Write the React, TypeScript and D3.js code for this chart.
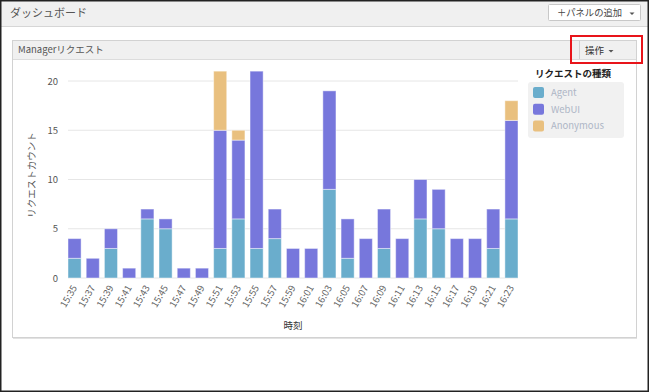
import React from "react";
import * as d3 from "d3";

const times = ["15:35","15:37","15:39","15:41","15:43","15:45","15:47","15:49","15:51","15:53","15:55","15:57","15:59","16:01","16:03","16:05","16:07","16:09","16:11","16:13","16:15","16:17","16:19","16:21","16:23"];
const agent = [2,0,3,0,6,5,0,0,3,6,3,4,0,0,9,2,0,3,0,6,5,0,0,3,6];
const webui = [2,2,2,1,1,1,1,1,12,8,18,3,3,3,10,4,4,4,4,4,4,4,4,4,10];
const anonymous = [0,0,0,0,0,0,0,0,6,1,0,0,0,0,0,0,0,0,0,0,0,0,0,0,2];
const seriesKeys = ["Agent", "WebUI", "Anonymous"];
const seriesColors = ["#6aadcc", "#7777dc", "#e9c07f"];
const yTicks = [0, 5, 10, 15, 20];

const FONT = "'Noto Sans CJK JP', 'Noto Sans', sans-serif";

export default function App() {
  const W = 649, H = 392;
  const rows = times.map((t, i) => ({ time: t, Agent: agent[i], WebUI: webui[i], Anonymous: anonymous[i] }));
  const stack = d3.stack<any>().keys(seriesKeys)(rows);
  const x = d3.scaleBand<string>().domain(times).range([68, 518]).paddingInner(0.28).paddingOuter(0);
  const y = d3.scaleLinear().domain([0, 20]).range([278, 81]);
  const color = d3.scaleOrdinal<string, string>().domain(seriesKeys).range(seriesColors);

  return (
    <svg width={W} height={H} style={{ position: "absolute", left: 0, top: 0, display: "block", fontFamily: FONT }}>
      <rect x={0} y={0} width={W} height={H} fill="#fff" />
      {/* top header */}
      <rect x={0} y={0} width={W} height={26} fill="#f0f0f0" />
      <line x1={0} x2={W} y1={26.5} y2={26.5} stroke="#d6d6d6" />
      <text x={10} y={16.5} fontSize={11} fill="#555">ダッシュボード</text>
      <rect x={548.5} y={4.5} width={92} height={16} fill="#fff" stroke="#c8c8c8" rx={1} />
      <text x={557} y={16} fontSize={9.5} fill="#444" textLength={65} lengthAdjust="spacingAndGlyphs">＋パネルの追加</text>
      <path d="M629.5,12.5 L634.5,12.5 L632,15 Z" fill="#555" />

      {/* panel */}
      <rect x={12.5} y={40.5} width={624} height={297} fill="#fff" stroke="#d2d2d2" />
      <line x1={13} x2={637} y1={338.5} y2={338.5} stroke="#e2e2e2" />
      <rect x={13} y={41} width={623} height={18} fill="#f0f0f0" />
      <line x1={13} x2={636} y1={59.5} y2={59.5} stroke="#dcdcdc" />
      <text x={18} y={53} fontSize={9.5} fill="#555">Managerリクエスト</text>
      <line x1={579.5} x2={579.5} y1={41} y2={59} stroke="#d0d0d0" />
      <text x={585} y={54} fontSize={9.5} fill="#333">操作</text>
      <path d="M608.5,50 L613.5,50 L611,52.5 Z" fill="#555" />
      <rect x={571} y={36} width={71} height={27} fill="none" stroke="#e8141a" strokeWidth={2} />

      {/* gridlines */}
      {yTicks.map(t => (
        <line key={t} x1={68} x2={518} y1={y(t)} y2={y(t)} stroke="#e6e6e6" strokeWidth={1} />
      ))}
      {yTicks.map(t => (
        <text key={"yl" + t} x={58} y={y(t) + 3.5} fontSize={9.5} fill="#555" textAnchor="end">{t}</text>
      ))}
      <text transform={`translate(35,175) rotate(-90)`} fontSize={9.5} fill="#555" textAnchor="middle">リクエストカウント</text>

      {/* bars */}
      {stack.map((s) => (
        <g key={s.key} fill={color(s.key)}>
          {s.map((d, i) => {
            const h = y(d[0]) - y(d[1]);
            if (h <= 0) return null;
            return (
              <rect key={i} x={x(times[i])!} y={y(d[1])} width={x.bandwidth()} height={h}
                stroke="rgba(255,255,255,0.45)" strokeWidth={1} />
            );
          })}
        </g>
      ))}

      {/* x tick labels */}
      {times.map(t => {
        const cx = x(t)! + x.bandwidth() / 2;
        return (
          <text key={"xl" + t} transform={`translate(${cx},${286}) rotate(-60)`} fontSize={9.5} fill="#666" textAnchor="end" dy="0.35em">{t}</text>
        );
      })}
      <text x={293} y={329} fontSize={9.5} fill="#333" textAnchor="middle">時刻</text>

      {/* legend */}
      <text x={535} y={77} fontSize={9.5} fontWeight="bold" fill="#222">リクエストの種類</text>
      <rect x={528} y={82} width={96} height={56} rx={3} fill="#f1f1f1" />
      {seriesKeys.map((k, i) => (
        <g key={k}>
          <rect x={533} y={87 + i * 16.7} width={11} height={11} rx={2} fill={color(k)} />
          <text x={551} y={96 + i * 16.7} fontSize={9.5} fill="#aeb6c6">{k}</text>
        </g>
      ))}

      {/* outer frame */}
      <rect x={0.75} y={0.75} width={W - 1.5} height={H - 1.5} fill="none" stroke="#222" strokeWidth={1.5} />
    </svg>
  );
}
